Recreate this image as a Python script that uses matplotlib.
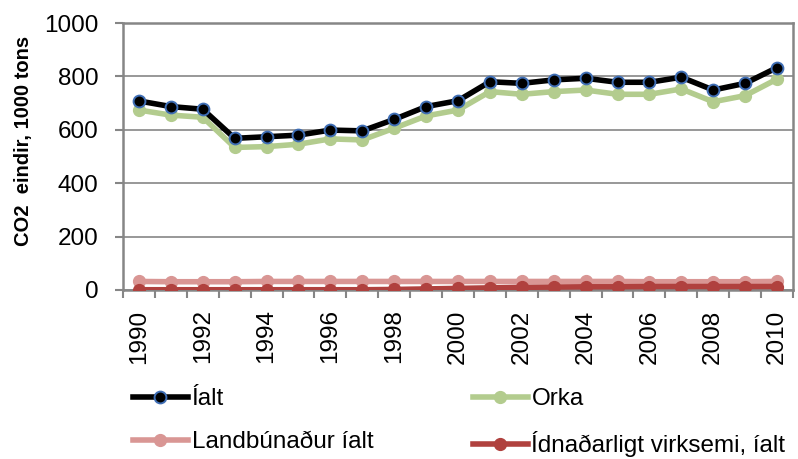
import numpy as np
import matplotlib
matplotlib.use("Agg")
import matplotlib.pyplot as plt
from matplotlib.ticker import FixedLocator

plt.rcParams["font.family"] = ["Liberation Sans", "DejaVu Sans"]

# Data (1000 tons CO2 equivalents)
years = list(range(1990, 2011))
ialt = [708, 687, 677, 568, 574, 580, 599, 596, 639, 687, 709,
        780, 774, 787, 793, 778, 778, 797, 749, 774, 833]
orka = [674, 655, 647, 534, 537, 546, 566, 562, 606, 652, 674,
        743, 733, 743, 749, 733, 733, 753, 705, 728, 790]
landbunadur = [32, 31, 31, 31, 32, 32, 32, 32, 32, 32, 32,
               32, 32, 32, 32, 32, 31, 31, 31, 31, 32]
idnadur = [1, 1, 1, 1, 1, 1, 1, 1, 2, 4, 6,
           8, 10, 11, 12, 12, 13, 13, 13, 13, 13]

y_ticks = [0, 200, 400, 600, 800, 1000]

fig = plt.figure(figsize=(7.98, 4.59), dpi=100)
ax = fig.add_axes([123 / 798, 1 - 290 / 459, (793 - 123) / 798, (290 - 23) / 459])

x = np.arange(len(years))
grey = "#868686"

l1, = ax.plot(x, ialt, color="black", lw=4, marker="o", ms=8.5,
              mfc="black", mec="#3F6EB5", mew=1.4, label="Íalt", zorder=5)
l2, = ax.plot(x, orka, color="#B3CC8E", lw=4, marker="o", ms=8.5,
              mfc="#B3CC8E", mec="#B3CC8E", label="Orka", zorder=4)
l3, = ax.plot(x, landbunadur, color="#D99694", lw=4, marker="o", ms=8.5,
              mfc="#D99694", mec="#D99694", label="Landbúnaður íalt", zorder=4)
l4, = ax.plot(x, idnadur, color="#B0413E", lw=4, marker="o", ms=8.5,
              mfc="#B0413E", mec="#B0413E", label="Ídnaðarligt virksemi, íalt", zorder=5)

ax.set_xlim(-0.5, len(years) - 0.5)
ax.set_ylim(0, 1000)
ax.set_yticks(y_ticks)
ax.set_yticklabels([str(v) for v in y_ticks], fontsize=17.5)
ax.grid(axis="y", color=grey, lw=1.2)
ax.set_axisbelow(True)

# year labels every second year, tick marks between categories
ax.set_xticks(x[::2])
ax.set_xticklabels([str(y) for y in years[::2]], rotation=90, fontsize=17.5)
ax.xaxis.set_minor_locator(FixedLocator(np.arange(-0.5, len(years), 1.0)))
ax.tick_params(axis="x", which="major", length=0, pad=14)
ax.tick_params(axis="x", which="minor", length=5.8, width=1.5, color=grey)
ax.tick_params(axis="y", length=5.8, width=1.5, color=grey, pad=12)

for side in ["left", "right", "top", "bottom"]:
    ax.spines[side].set_color(grey)
    ax.spines[side].set_linewidth(1.8)

ax.set_ylabel("CO2  eindir, 1000 tons", fontsize=14.5, fontweight="bold")
ax.yaxis.set_label_coords(-90 / 670, 0.56)

fig.legend(
    handles=[l1, l3, l2, l4],
    ncol=2,
    loc="upper left",
    bbox_to_anchor=(133 / 798, 1 - 388 / 459),
    frameon=False,
    fontsize=17.5,
    numpoints=1,
    handlelength=2.26,
    handletextpad=0.15,
    columnspacing=4.1,
    labelspacing=0.88,
    borderaxespad=0,
    borderpad=0,
)

fig.savefig("out.png", dpi=100)
